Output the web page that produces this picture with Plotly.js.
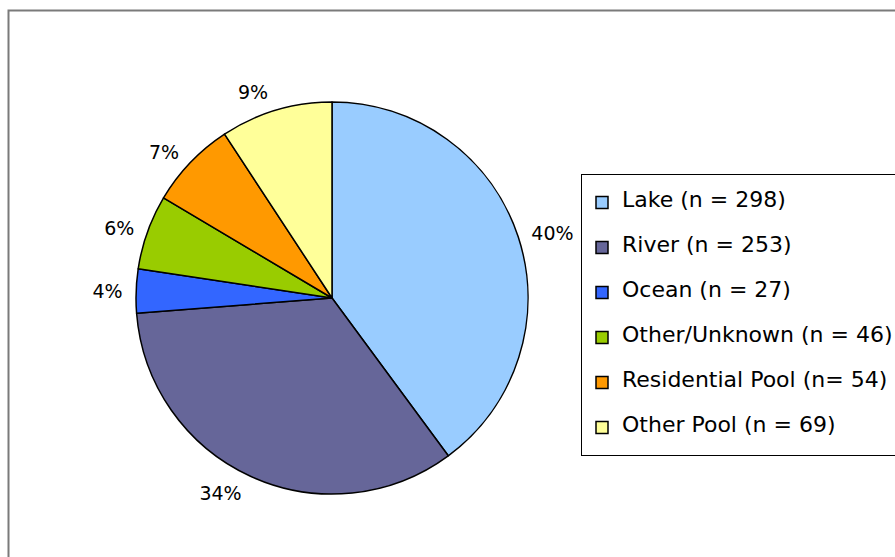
<!DOCTYPE html>
<html>
<head>
<meta charset="utf-8">
<script src="https://cdn.plot.ly/plotly-3.0.1.min.js"></script>
<style>
  html, body { margin: 0; padding: 0; background: #fff; overflow: hidden; }
  #chart { width: 895px; height: 557px; }
</style>
</head>
<body>
<div id="chart"></div>
<script>
// Drowning locations by water body type
const categories = ['Lake', 'River', 'Ocean', 'Other/Unknown', 'Residential Pool', 'Other Pool'];
const counts = [298, 253, 27, 46, 54, 69];
const legendLabels = [
  'Lake (n = 298)',
  'River (n = 253)',
  'Ocean (n = 27)',
  'Other/Unknown (n = 46)',
  'Residential Pool (n= 54)',
  'Other Pool (n = 69)'
];
const sliceColors = ['#99CCFF', '#666699', '#3366FF', '#99CC00', '#FF9900', '#FFFF99'];

const W = 895, H = 557;
const FONT = 'DejaVu Sans, Verdana, sans-serif';

// Pie placement in pixels: centre and radius
const cx = 332, cy = 298, r = 196;
// percentage labels sit on a slightly wider ring than the pie itself
const rLabels = r + 8;

function domainFor(radius) {
  return {
    x: [(cx - radius) / W, (cx + radius) / W],
    y: [1 - (cy + radius) / H, 1 - (cy - radius) / H]
  };
}

// Legend rows carry an empty line above and below the label, so a small
// base font gives 45px rows while the label itself is drawn at 22px.
const legendText = legendLabels.map(
  t => '\u00a0<br><span style="font-size:22px">' + t + '</span><br>\u00a0'
);

const pie = {
  type: 'pie',
  labels: legendText,
  values: counts,
  customdata: categories,
  sort: false,
  direction: 'clockwise',
  rotation: 0,
  marker: { colors: sliceColors, line: { color: '#000000', width: 1.5 } },
  textinfo: 'none',
  hoverinfo: 'none',
  domain: domainFor(r)
};

// transparent ring carrying the outside percentage labels
const labelRing = {
  type: 'pie',
  labels: categories,
  values: counts,
  sort: false,
  direction: 'clockwise',
  rotation: 0,
  showlegend: false,
  marker: { colors: categories.map(() => 'rgba(0,0,0,0)'), line: { width: 0 } },
  textposition: 'outside',
  texttemplate: '%{percent:.0%}',
  textfont: { family: FONT, size: 19, color: '#000000' },
  hoverinfo: 'none',
  domain: domainFor(rLabels)
};

const layout = {
  width: W,
  height: H,
  margin: { l: 0, r: 0, t: 0, b: 0, autoexpand: false },
  paper_bgcolor: '#ffffff',
  plot_bgcolor: '#ffffff',
  showlegend: true,
  legend: {
    x: 581 / W,
    xanchor: 'left',
    y: 1 - 174 / H,
    yanchor: 'top',
    bgcolor: '#ffffff',
    bordercolor: '#000000',
    borderwidth: 1,
    traceorder: 'normal',
    font: { family: FONT, size: 14 / 1.3, color: '#000000' }
  },
  shapes: [{
    // outer chart frame, running off the right and bottom edges
    type: 'rect', xref: 'paper', yref: 'paper', layer: 'below',
    x0: 8.5 / W, x1: 1.05, y0: -0.05, y1: 1 - 10.5 / H,
    line: { color: '#7a7a7a', width: 2 }
  }]
};

Plotly.newPlot('chart', [pie, labelRing], layout, { staticPlot: true, displayModeBar: false });
</script>
</body>
</html>
